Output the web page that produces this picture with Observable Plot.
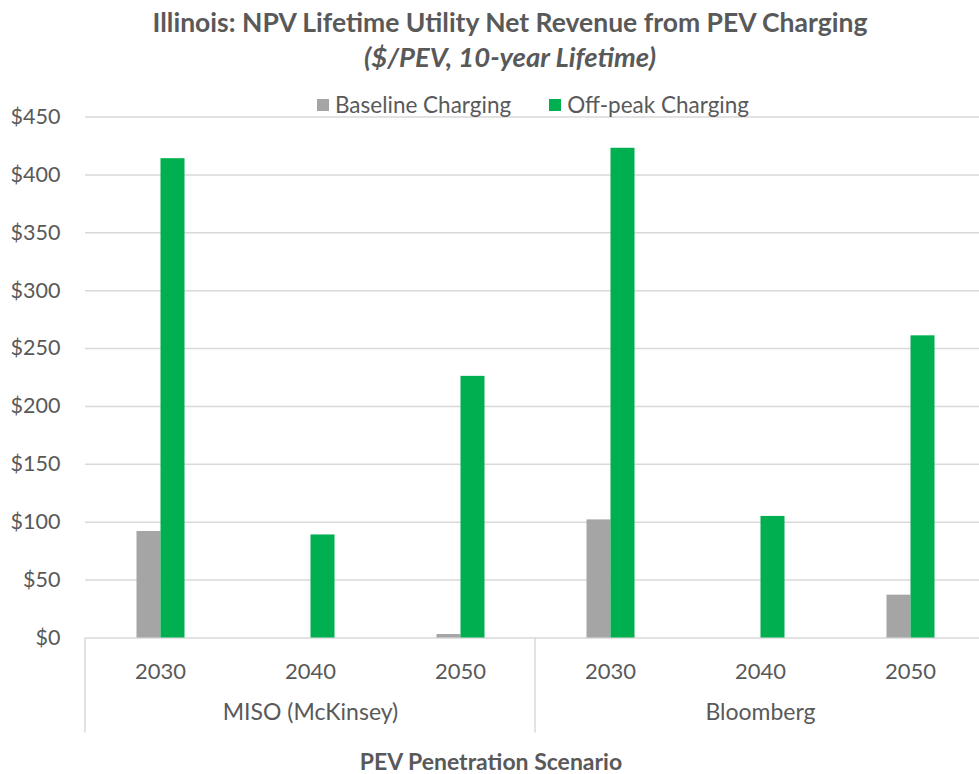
<!DOCTYPE html>
<html><head><meta charset="utf-8">
<script src="https://cdn.jsdelivr.net/npm/d3@7"></script>
<script src="https://cdn.jsdelivr.net/npm/@observablehq/plot@0.6"></script>
<style>
html,body{margin:0;padding:0;background:#fff;overflow:hidden;}
#wrap{position:relative;width:979px;height:774px;overflow:hidden;font-family:Lato,"Open Sans",sans-serif;color:#595959;}
#title{position:absolute;left:0;width:1020px;top:6px;text-align:center;font-weight:bold;font-size:26.5px;line-height:32px;white-space:nowrap;}
#subtitle{position:absolute;left:0;width:1020px;top:40px;text-align:center;font-weight:bold;font-style:italic;font-size:27.5px;line-height:34px;white-space:nowrap;}
#legend{position:absolute;left:0;width:1066px;top:89px;text-align:center;font-size:22.5px;line-height:28px;white-space:nowrap;z-index:2;}
#legend .item{display:inline-flex;align-items:center;margin:0 19px;}
#legend .sw{display:inline-block;width:12px;height:12px;margin-right:6px;}
#xtitle{position:absolute;left:0;width:982px;top:748px;text-align:center;font-weight:bold;font-size:23px;line-height:26px;white-space:nowrap;}
#chart{position:absolute;left:0;top:0;width:988px;height:774px;}
#chart svg{max-width:none !important;width:988px;height:774px;}
</style></head>
<body>
<div id="wrap">
  <div id="chart"></div>
  <div id="title">Illinois: NPV Lifetime Utility Net Revenue from PEV Charging</div>
  <div id="subtitle">($/PEV, 10-year Lifetime)</div>
  <div id="legend"></div>
  <div id="xtitle">PEV Penetration Scenario</div>
</div>
<script>
const groups = ["MISO (McKinsey)", "Bloomberg"];
const years = ["2030", "2040", "2050"];
const series = ["Baseline Charging", "Off-peak Charging"];
const colors = ["#a5a5a5", "#00b050"];
const misoBaseline = [92, 0, 3];
const misoOffpeak = [414, 89, 226];
const bloombergBaseline = [102, 0, 37];
const bloombergOffpeak = [423, 105, 261];
const yTicks = [0, 50, 100, 150, 200, 250, 300, 350, 400, 450];

const valuesByGroup = [[misoBaseline, misoOffpeak], [bloombergBaseline, bloombergOffpeak]];
const keys = groups.flatMap(g => years.map(y => g + "|" + y));
const rows = [];
groups.forEach((g, gi) => years.forEach((y, yi) => series.forEach((s, si) => {
  rows.push({key: g + "|" + y, series: s, value: valuesByGroup[gi][si][yi]});
})));
const groupLabels = groups.map(g => ({group: g, key: g + "|" + years[1]}));

const chart = Plot.plot({
  width: 988, height: 774,
  marginLeft: 82.5, marginRight: 0, marginTop: 116.5, marginBottom: 136.5,
  style: {fontFamily: "Lato, 'Open Sans', sans-serif", fontSize: "21px", color: "#595959", background: "transparent", maxWidth: "none"},
  fx: {domain: keys, padding: 0, axis: null},
  x: {domain: series, paddingInner: 0, paddingOuter: 2.125, axis: null},
  y: {domain: [0, 450], axis: null},
  color: {domain: series, range: colors},
  marks: [
    Plot.gridY(yTicks, {stroke: "#d9d9d9", strokeOpacity: 1, strokeWidth: 1.5}),
    Plot.barY(rows, {fx: "key", x: "series", y: "value", fill: "series"}),
    Plot.axisY(yTicks, {tickFormat: d => "$" + d, tickSize: 0, tickPadding: 25, fontSize: 21.5, label: null}),
    Plot.axisFx({anchor: "bottom", tickSize: 0, tickPadding: 25, tickFormat: k => k.split("|")[1], fontSize: 22, label: null}),
    Plot.text(groupLabels, {fx: "key", text: "group", frameAnchor: "bottom", dy: 82, fontSize: 23, fill: "#595959"})
  ]
});
document.getElementById("chart").appendChild(chart);

// separators below the axis, from the fx scale
const fx = chart.scale("fx");
const bw = fx.bandwidth;
const y0 = chart.scale("y").apply(0);
const seps = [fx.apply(keys[0]), fx.apply(keys[3]), fx.apply(keys[5]) + bw];
d3.select(chart).append("g").selectAll("line").data(seps).join("line")
  .attr("x1", d => d).attr("x2", d => d)
  .attr("y1", y0).attr("y2", y0 + 95)
  .attr("stroke", "#d9d9d9").attr("stroke-width", 1.5);

// legend
const leg = d3.select("#legend");
series.forEach((s, i) => {
  const it = leg.append("span").attr("class", "item");
  it.append("span").attr("class", "sw").style("background", colors[i]);
  it.append("span").text(s);
});
</script>
</body></html>
